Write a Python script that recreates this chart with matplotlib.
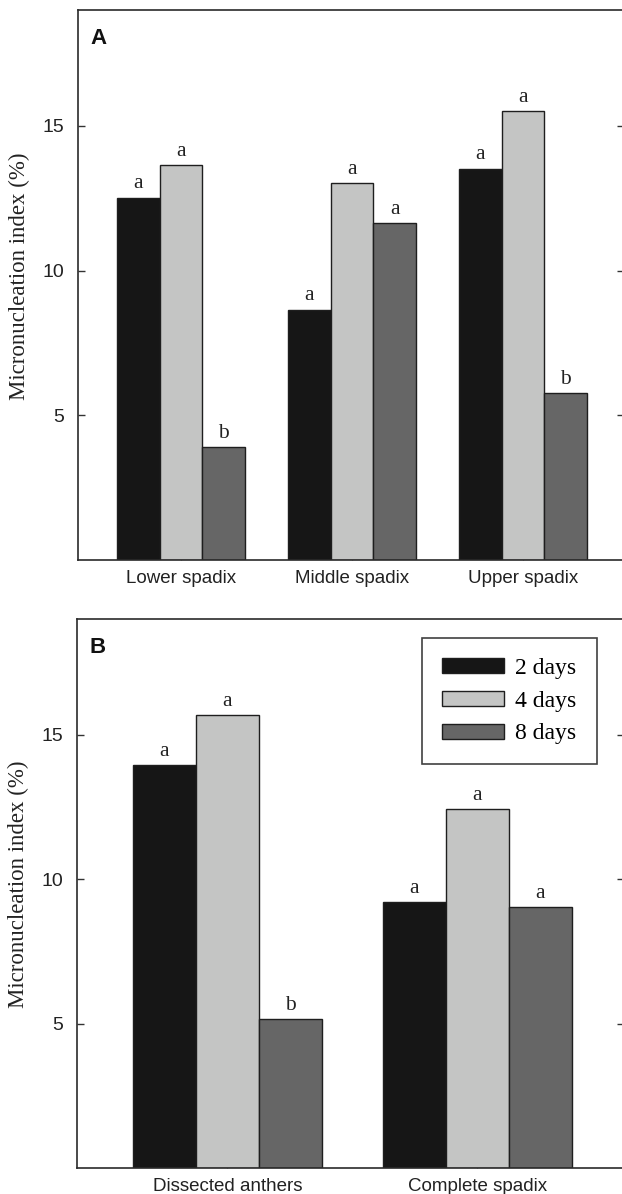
import matplotlib
matplotlib.use("Agg")
import matplotlib.pyplot as plt
import numpy as np

# ---- data ----
series = ["2 days", "4 days", "8 days"]
colors = ["#161616", "#c4c5c4", "#666666"]

cats_A = ["Lower spadix", "Middle spadix", "Upper spadix"]
vals_A_2d = [12.52, 8.65, 13.52]
vals_A_4d = [13.65, 13.02, 15.50]
vals_A_8d = [3.90, 11.64, 5.76]
let_A_2d = ["a", "a", "a"]
let_A_4d = ["a", "a", "a"]
let_A_8d = ["b", "a", "b"]

cats_B = ["Dissected anthers", "Complete spadix"]
vals_B_2d = [13.94, 9.20]
vals_B_4d = [15.67, 12.43]
vals_B_8d = [5.16, 9.02]
let_B_2d = ["a", "a"]
let_B_4d = ["a", "a"]
let_B_8d = ["b", "a"]

yticks = [5, 10, 15]
ylim = (0, 19)

W, H = 622, 1194
fig = plt.figure(figsize=(W / 100, H / 100), dpi=100)

serif = ["Liberation Serif", "DejaVu Serif"]
sans = ["Liberation Sans", "DejaVu Sans"]


def px_axes(left, right, top, bottom):
    return fig.add_axes([left / W, (H - bottom) / H, (right - left) / W, (bottom - top) / H])


def draw(ax, cats, vals, lets, xlim, label, width=0.252, legend=False):
    x = np.arange(len(cats))
    offs = [-width, 0, width]
    for i in range(3):
        bars = ax.bar(x + offs[i], vals[i], width, color=colors[i], edgecolor="#1e1e1e",
                      linewidth=1.0, label=series[i], zorder=2)
        for b, v, t in zip(bars, vals[i], lets[i]):
            ax.annotate(t, (b.get_x() + b.get_width() / 2, v), xytext=(0, 3),
                        textcoords="offset points", ha="center", va="bottom",
                        fontsize=15.5, family=serif, color="#222222")
    ax.set_xlim(*xlim)
    ax.set_ylim(*ylim)
    ax.set_yticks(yticks)
    ax.set_xticks(x)
    ax.set_xticklabels(cats, family=sans, fontsize=13.5, color="#222222")
    ax.set_yticklabels([str(t) for t in yticks], family=sans, fontsize=14, color="#222222")
    ax.tick_params(axis="y", direction="in", length=5, width=1, right=True, pad=10,
                   color="#333333")
    ax.tick_params(axis="x", direction="in", length=3, width=0.8, pad=7, color="#777777")
    for s in ax.spines.values():
        s.set_linewidth(1.2)
        s.set_color("#2a2a2a")
    ax.set_ylabel("Micronucleation index (%)", family=serif, fontsize=16.5, color="#222222")
    ax.yaxis.set_label_coords(-0.088, 0.516)
    ax.text(0.022, 0.967, label, transform=ax.transAxes, ha="left", va="top",
            fontsize=16, fontweight="bold", family=sans, color="#111111")
    if legend:
        leg = ax.legend(loc="upper right", bbox_to_anchor=(0.950, 0.966), borderaxespad=0,
                        fancybox=False, frameon=True, edgecolor="#111111",
                        prop={"family": serif, "size": 17}, handlelength=2.6,
                        handleheight=0.6, labelspacing=0.5, borderpad=0.85,
                        handletextpad=0.5)
        leg.get_frame().set_linewidth(1.2)


axA = px_axes(78, 624, 10, 560)
draw(axA, cats_A, [vals_A_2d, vals_A_4d, vals_A_8d], [let_A_2d, let_A_4d, let_A_8d],
     ((78 - 181) / 171, (624 - 181) / 171), "A", width=0.251)

axB = px_axes(77, 624, 619, 1168)
draw(axB, cats_B, [vals_B_2d, vals_B_4d, vals_B_8d], [let_B_2d, let_B_4d, let_B_8d],
     ((77 - 227.5) / 250, (624 - 227.5) / 250), "B", width=0.252, legend=True)

fig.savefig("out.png", dpi=100)
